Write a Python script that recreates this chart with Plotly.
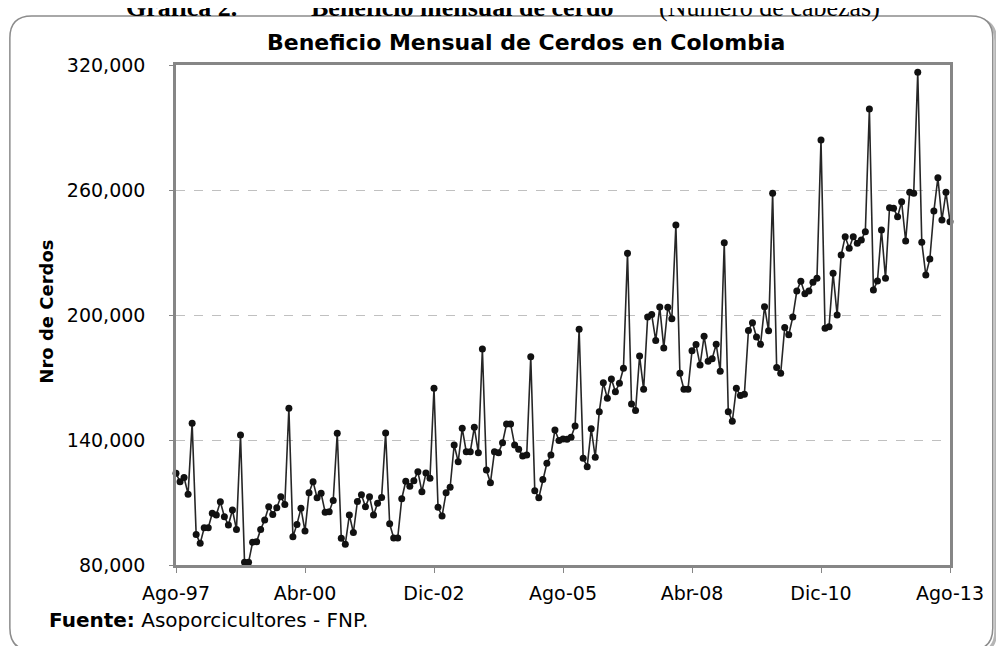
import plotly.graph_objects as go

# ---------------- data ----------------
month_names = ["Ene", "Feb", "Mar", "Abr", "May", "Jun", "Jul", "Ago", "Sep", "Oct", "Nov", "Dic"]
start_year = 1997
start_month_index = 7  # Ago

cerdos = [
    124000, 120000, 122000, 114000, 148000, 94700, 90400, 97900, 97900, 104800,
    104000, 110400, 103200, 99200, 106400, 97100, 142400, 81300, 81300, 90900,
    91200, 97100, 101600, 108000, 104300, 107500, 112800, 109100, 155200, 93600,
    99500, 107200, 96300, 114700, 120000, 112300, 114400, 105300, 105600, 111000,
    143200, 92800, 90000, 104000, 95600, 110500, 113700, 108000, 112800, 104000,
    109600, 112400, 143400, 99800, 93000, 93000, 111800, 120200, 117800, 120500,
    124800, 115200, 124100, 121600, 164800, 107700, 103500, 114700, 117300, 137600,
    129600, 145600, 134400, 134400, 146100, 133900, 183700, 125600, 119500, 134400,
    133900, 138700, 147700, 147700, 137600, 135500, 132300, 132800, 180000, 115700,
    112300, 121100, 128800, 132800, 144800, 139800, 140500, 140300, 141300, 146700,
    193100, 131200, 127200, 145400, 131700, 153600, 167500, 160000, 169300, 163200,
    167200, 174400, 229600, 157300, 154100, 180300, 164300, 199000, 200200, 187800,
    203800, 184200, 203700, 198200, 243200, 172000, 164300, 164300, 182800, 185800,
    176000, 189800, 177800, 179000, 186000, 173000, 234700, 153600, 149000, 164800,
    161300, 162000, 192500, 196300, 189400, 185900, 204000, 192400, 258400, 174800,
    172000, 194000, 190500, 199000, 211500, 216200, 210200, 211500, 215700, 217600,
    284000, 193600, 194400, 220000, 200000, 228800, 237600, 232000, 237600, 234400,
    236000, 240000, 298900, 212000, 216300, 240800, 217600, 251500, 251200, 247200,
    254400, 235500, 258900, 258400, 316500, 234900, 219200, 226900, 249900, 265900,
    245600, 258900, 244800,
]

categories = [
    f"{month_names[(start_month_index + i) % 12]}-{(start_year + (start_month_index + i) // 12) % 100:02d}"
    for i in range(len(cerdos))
]

x_tick_labels = ["Ago-97", "Abr-00", "Dic-02", "Ago-05", "Abr-08", "Dic-10", "Ago-13"]
y_tick_values = [80000, 140000, 200000, 260000, 320000]

# ---------------- geometry (page pixels) ----------------
PAGE_W, PAGE_H = 1004, 654
OFF = 8  # default body margin of the html page
FW, FH = PAGE_W - 2 * OFF, PAGE_H - 2 * OFF
L, R, T, B = 176, 954, 65, 565  # plot area in page pixels


def px(xp):
    return (xp - L) / (R - L)


def py(yp):
    return (B - yp) / (B - T)


def rounded_rect(x0, y0, x1, y1, r):
    pts = [
        ("M", (x0 + r, y0)), ("L", (x1 - r, y0)), ("Q", (x1, y0), (x1, y0 + r)),
        ("L", (x1, y1 - r)), ("Q", (x1, y1), (x1 - r, y1)),
        ("L", (x0 + r, y1)), ("Q", (x0, y1), (x0, y1 - r)),
        ("L", (x0, y0 + r)), ("Q", (x0, y0), (x0 + r, y0)),
    ]
    s = ""
    for p in pts:
        coords = " ".join(f"{px(a):.5f},{py(b):.5f}" for a, b in p[1:])
        s += f"{p[0]} {coords} "
    return s + "Z"


SANS = "DejaVu Sans, Arial, sans-serif"
SERIF = "Liberation Serif, Times New Roman, serif"

fig = go.Figure()
fig.add_trace(
    go.Scatter(
        x=categories,
        y=cerdos,
        mode="lines+markers",
        line=dict(color="#262626", width=1.6),
        marker=dict(color="#111111", size=7),
        cliponaxis=False,
        showlegend=False,
    )
)

fig.update_layout(
    width=FW,
    height=FH,
    autosize=False,
    margin=dict(l=L - OFF, r=FW - (R - OFF), t=T - OFF, b=FH - (B - OFF), pad=0),
    paper_bgcolor="white",
    plot_bgcolor="white",
    font=dict(family=SANS, color="#000000", size=16),
    xaxis=dict(
        type="category",
        categoryorder="array",
        categoryarray=categories,
        range=[0, len(cerdos) - 1],
        tickmode="array",
        tickvals=x_tick_labels,
        ticktext=x_tick_labels,
        ticks="outside",
        ticklen=5,
        tickwidth=1,
        tickcolor="#868686",
        tickfont=dict(family=SANS, size=19, color="#000000"),
        ticklabelstandoff=4,
        showline=True,
        linecolor="#868686",
        linewidth=2.5,
        mirror=True,
        showgrid=False,
        zeroline=False,
    ),
    yaxis=dict(
        range=[80000, 320000],
        tickmode="array",
        tickvals=y_tick_values,
        tickformat=",d",
        ticks="outside",
        ticklen=4,
        tickwidth=1,
        tickcolor="#868686",
        tickfont=dict(family=SANS, size=19, color="#000000"),
        ticklabelstandoff=20,
        showline=True,
        linecolor="#868686",
        linewidth=2.5,
        mirror=True,
        showgrid=True,
        gridcolor="#c0c0c0",
        gridwidth=1,
        griddash="dash",
        zeroline=False,
    ),
)

# outer chart frame with shadow
fig.add_shape(type="path", xref="paper", yref="paper",
              path=rounded_rect(12, 19, 1000, 653, 22),
              line=dict(color="#b5b5b5", width=3), layer="below")
fig.add_shape(type="path", xref="paper", yref="paper",
              path=rounded_rect(9, 16, 997, 650, 22),
              line=dict(color="#8c8c8c", width=1.5), fillcolor="white", layer="below")

TOP_Y = 24
annotations = [
    dict(text="<b>Beneficio Mensual de Cerdos en Colombia</b>", x=px(528), y=py(43),
         xanchor="center", yanchor="middle", font=dict(family=SANS, size=22, color="#000")),
    dict(text="<b>Nro de Cerdos</b>", x=px(45), y=py(312), textangle=-90,
         xanchor="center", yanchor="middle", font=dict(family=SANS, size=18, color="#000")),
    dict(text="<b>Fuente:</b> Asoporcicultores - FNP.", x=px(46), y=py(620),
         xanchor="left", yanchor="middle", font=dict(family=SANS, size=20, color="#000")),
    dict(text="<b>Gráfica 2.</b>", x=px(124), y=py(TOP_Y),
         xanchor="left", yanchor="bottom", font=dict(family=SERIF, size=26, color="#000")),
    dict(text="<b>Beneficio mensual de cerdo</b>", x=px(310), y=py(TOP_Y),
         xanchor="left", yanchor="bottom", font=dict(family=SERIF, size=26, color="#000")),
    dict(text="(Número de cabezas)", x=px(659), y=py(TOP_Y),
         xanchor="left", yanchor="bottom", font=dict(family=SERIF, size=26, color="#000")),
]
for a in annotations:
    a.update(xref="paper", yref="paper", showarrow=False)
fig.update_layout(annotations=annotations)

fig.write_html("out.html")
